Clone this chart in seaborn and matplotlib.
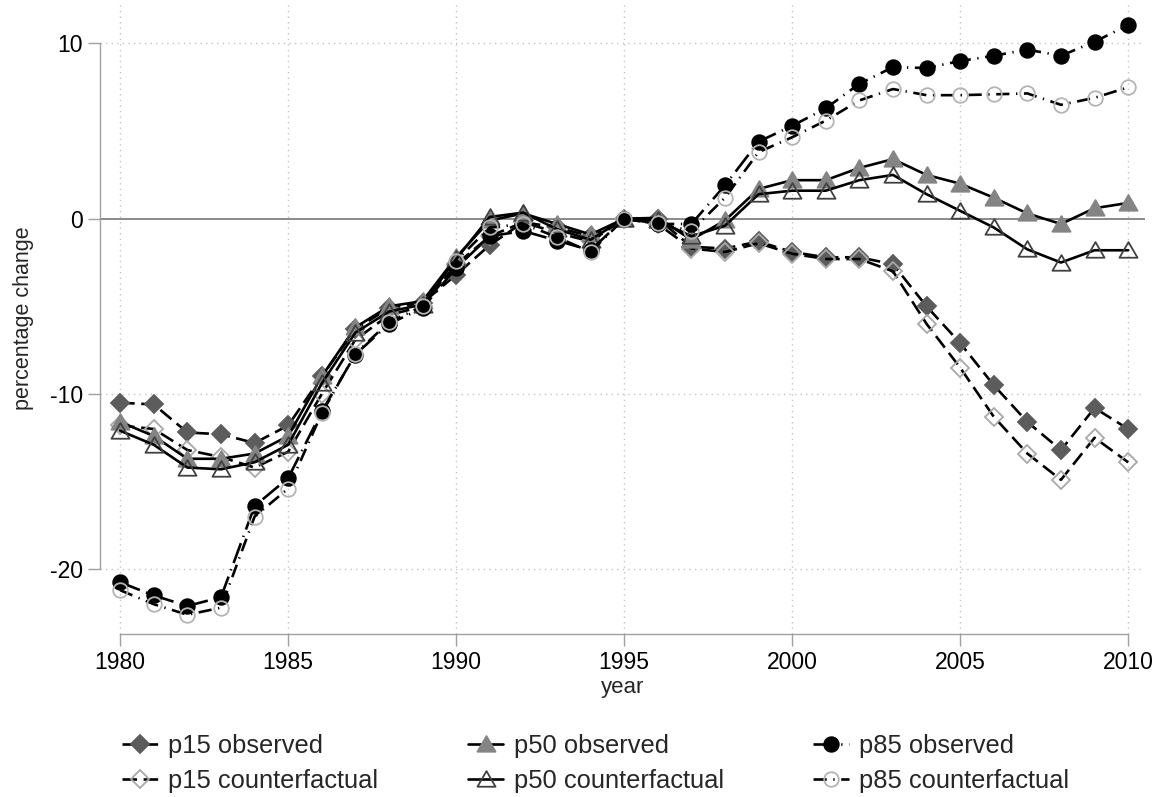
import matplotlib
matplotlib.use("Agg")
import matplotlib.pyplot as plt
from matplotlib.path import Path
import seaborn as sns
import pandas as pd

years = list(range(1980, 2011))

p15_observed = [-10.5, -10.6, -12.2, -12.3, -12.8, -11.8, -9.0, -6.3, -5.1, -4.8,
                -3.2, -1.5, -0.2, -0.5, -1.0, 0.0, 0.0, -1.6, -1.7, -1.3,
                -1.9, -2.2, -2.2, -2.6, -5.0, -7.1, -9.5, -11.6, -13.2, -10.8, -12.0]
p15_counterfactual = [-11.8, -12.0, -13.2, -13.6, -14.2, -13.3, -10.0, -6.9, -5.5, -5.0,
                      -2.6, -1.0, -0.2, -0.8, -1.3, 0.0, -0.3, -1.7, -1.9, -1.4,
                      -2.0, -2.3, -2.3, -3.0, -6.0, -8.5, -11.3, -13.4, -14.9, -12.5, -13.9]
p50_observed = [-11.6, -12.4, -13.7, -13.7, -13.4, -12.4, -9.0, -6.2, -5.0, -4.7,
                -2.2, -0.1, 0.3, -0.3, -0.9, 0.0, 0.05, -1.2, -0.1, 1.7,
                2.2, 2.2, 2.9, 3.4, 2.5, 2.0, 1.2, 0.3, -0.3, 0.6, 0.9]
p50_counterfactual = [-12.1, -12.9, -14.2, -14.3, -13.9, -12.9, -9.4, -6.5, -5.3, -4.9,
                      -2.3, 0.1, 0.35, -0.6, -1.2, 0.0, -0.1, -1.0, -0.4, 1.4,
                      1.6, 1.6, 2.2, 2.5, 1.4, 0.45, -0.5, -1.75, -2.5, -1.8, -1.8]
p85_observed = [-20.75, -21.5, -22.1, -21.6, -16.4, -14.8, -11.0, -7.75, -6.0, -5.1,
                -2.8, -1.0, -0.7, -1.25, -1.8, 0.0, -0.3, -0.3, 1.9, 4.4,
                5.3, 6.3, 7.7, 8.65, 8.6, 9.0, 9.3, 9.65, 9.3, 10.1, 11.05]
p85_counterfactual = [-21.2, -22.0, -22.6, -22.2, -17.0, -15.4, -11.1, -7.7, -5.9, -5.0,
                      -2.4, -0.5, -0.3, -1.05, -1.9, 0.0, -0.27, -0.7, 1.2, 3.8,
                      4.65, 5.6, 6.75, 7.4, 7.05, 7.05, 7.1, 7.15, 6.5, 6.9, 7.5]

labels = ["p15 observed", "p15 counterfactual",
          "p50 observed", "p50 counterfactual",
          "p85 observed", "p85 counterfactual"]

df = pd.DataFrame({
    "year": years,
    "p15 observed": p15_observed,
    "p15 counterfactual": p15_counterfactual,
    "p50 observed": p50_observed,
    "p50 counterfactual": p50_counterfactual,
    "p85 observed": p85_observed,
    "p85 counterfactual": p85_counterfactual,
})

# Stata-like triangle (wider than tall)
triangle = Path([(-1, -0.8), (1, -0.8), (0, 0.93), (-1, -0.8)], closed=True)

styles = {
    "p15 observed": dict(marker="D", markersize=9.5, markerfacecolor="#5c5c5c",
                         markeredgecolor="#5c5c5c", linestyle=(0, (5.5, 2.5))),
    "p15 counterfactual": dict(marker="D", markersize=9.5, markerfacecolor="none",
                               markeredgecolor="#a8a8a8", linestyle=(0, (5.5, 2.5))),
    "p50 observed": dict(marker=triangle, markersize=13, markerfacecolor="#848484",
                         markeredgecolor="#848484", linestyle="-"),
    "p50 counterfactual": dict(marker=triangle, markersize=13, markerfacecolor="none",
                               markeredgecolor="#404040", linestyle="-"),
    "p85 observed": dict(marker="o", markersize=10.5, markerfacecolor="black",
                         markeredgecolor="black", linestyle=(0, (8, 2.5, 0.5, 2.5))),
    "p85 counterfactual": dict(marker="o", markersize=10.5, markerfacecolor="none",
                               markeredgecolor="#b4b4b4", linestyle=(0, (5, 2.5, 0.5, 2.5))),
}

sns.set_theme(style="white")
plt.rcParams["font.family"] = ["Liberation Sans", "DejaVu Sans"]

fig = plt.figure(figsize=(11.63, 7.97), dpi=100)
ax = fig.add_axes([0.086, 0.2045, 0.8985, 0.7915])

# dotted grid and zero line
for yv in [-20, -10, 10]:
    ax.axhline(yv, color="#c4c4c4", linestyle=(0, (1, 3)), linewidth=1.0, zorder=0)
for xv in range(1980, 2011, 5):
    ax.axvline(xv, color="#c4c4c4", linestyle=(0, (1, 3)), linewidth=1.0, zorder=0)
ax.axhline(0, color="#8a8a8a", linewidth=1.4, zorder=0.5)

handles = {}
for name in labels:
    sns.lineplot(data=df, x="year", y=name, ax=ax, color="black", linewidth=1.9,
                 markeredgewidth=1.3, label=name, legend=False, **styles[name])
    handles[name] = ax.lines[-1]

ax.set_xlim(1979.4, 2010.5)
ax.set_ylim(-23.7, 12.3)
ax.set_xticks(range(1980, 2011, 5))
ax.set_yticks([-20, -10, 0, 10])
ax.set_yticklabels(["-20", "-10", "0", "10"])

for side in ["top", "right"]:
    ax.spines[side].set_visible(False)
ax.spines["left"].set_bounds(-20, 10)
ax.spines["bottom"].set_bounds(1980, 2010)
for side in ["left", "bottom"]:
    ax.spines[side].set_color("#a0a0a0")
    ax.spines[side].set_linewidth(1.0)

ax.tick_params(axis="both", which="major", direction="out", length=8.5, width=1.0,
               color="#a0a0a0", labelsize=16.5, labelcolor="black", pad=4,
               left=True, bottom=True)
ax.set_xlabel("year", fontsize=16, labelpad=2)
ax.set_ylabel("percentage change", fontsize=15.5, labelpad=11)

fig.legend([handles[n] for n in labels], labels, ncol=3, loc="upper left",
           bbox_to_anchor=(0.105, 0.079), frameon=False, fontsize=18.4,
           handlelength=1.4, handletextpad=0.4, columnspacing=3.5,
           labelspacing=0.44, borderpad=0, borderaxespad=0)

fig.savefig("out.png", dpi=100)
